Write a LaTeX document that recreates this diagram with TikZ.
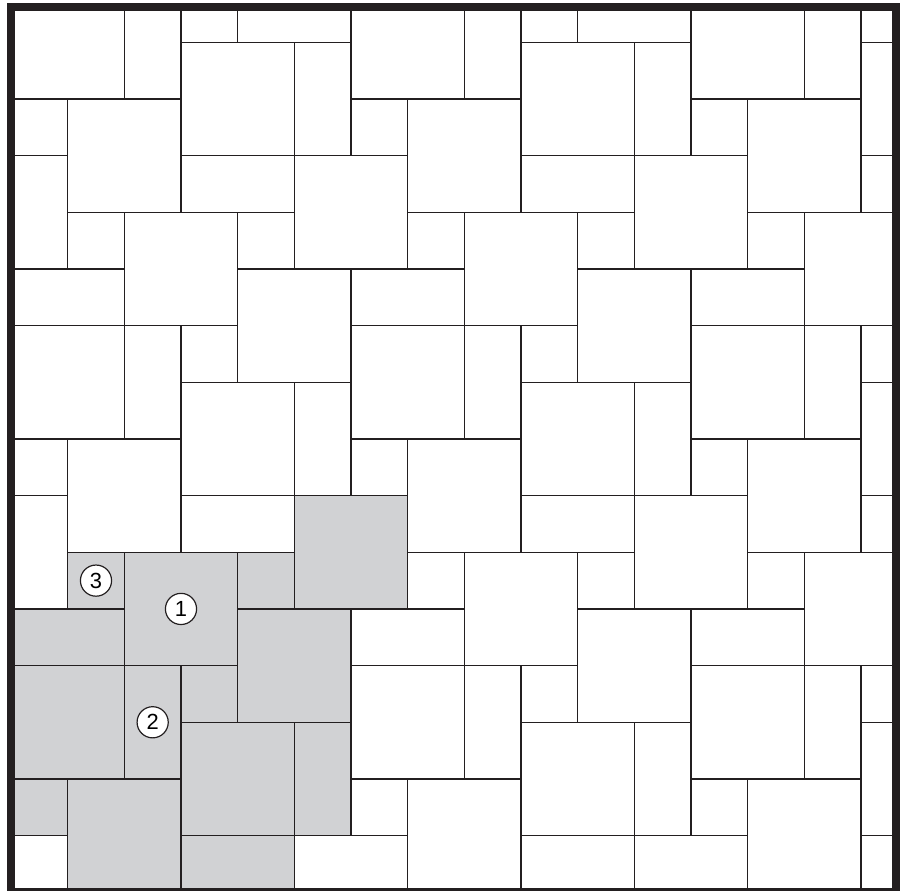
\documentclass[tikz,border=0pt]{standalone}
\usepackage{fontspec}
\setmainfont{Liberation Sans}
\usepackage{xcolor}
\definecolor{paver}{HTML}{D1D2D4}
\definecolor{rim}{HTML}{231F20}

\tikzset{
  slab/.style={draw=rim,line width=0.7pt},
  numdisc/.style={circle,draw=rim,fill=white,line width=0.6pt,inner sep=0pt,
    minimum size=0.55cm,font=\fontsize{11}{13}\selectfont}
}

\begin{document}
\begin{tikzpicture}
      \useasboundingbox (-0.194,0.023) rectangle (15.882,15.746);
      \begin{scope}
        \clip (0,0) rectangle (15.62,15.62);
        % one repeat of the pattern, shaded
        \foreach \x/\y/\w/\h in {1/0/2/2, 3/1/2/2, 0/2/2/2, 4/3/2/2, 2/4/2/2, 5/5/2/2,
            5/1/1/2, 2/2/1/2, 3/0/2/1, 0/4/2/1, 0/1/1/1, 3/3/1/1, 1/5/1/1, 4/5/1/1}
          \fill[paver] (\x,\y) rectangle ++(\w,\h);
        % all slabs, 6x6 repeat
        \foreach \a in {-6,0,6,12}
          \foreach \b in {-6,0,6,12}
            \foreach \x/\y/\w/\h in {1/0/2/2, 3/1/2/2, 0/2/2/2, 4/3/2/2, 2/4/2/2, 5/5/2/2,
                5/1/1/2, 2/2/1/2, 3/0/2/1, 0/4/2/1, 0/1/1/1, 3/3/1/1, 1/5/1/1, 4/5/1/1}
              \draw[slab] (\a+\x,\b+\y) rectangle ++(\w,\h);
      \end{scope}
      \draw[rim,line width=4pt] (0,0) rectangle (15.62,15.62);
      \node[numdisc] (one) at (3,5) {1};
      \node[numdisc] (two) at (2.5,3) {2};
      \node[numdisc] (three) at (1.5,5.5) {3};
    \end{tikzpicture}
\end{document}
